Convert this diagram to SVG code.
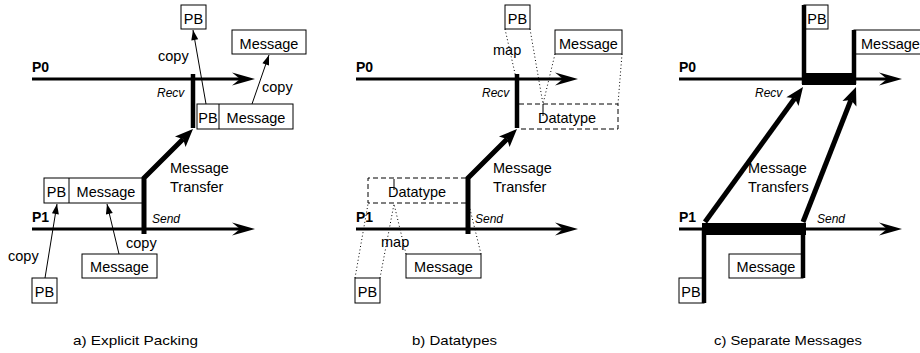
<svg xmlns="http://www.w3.org/2000/svg" width="920" height="353" viewBox="0 0 920 353">
<style>
text{font-family:"Liberation Sans",Arial,sans-serif;font-size:14.5px;fill:#000}
.lbl{font-weight:bold;font-size:14px}
.it{font-style:italic;font-size:12px}
.c{text-anchor:middle}
.cap{font-size:13.5px}
.box{fill:#fff;stroke:#000;stroke-width:1}
.dbox{fill:none;stroke:#000;stroke-width:1;stroke-dasharray:5 3}
.time{stroke:#000;stroke-width:3;fill:none}
.bar{stroke:#000;stroke-width:4.5;fill:none}
.xfer{stroke:#000;stroke-width:5;fill:none}
.thin{stroke:#000;stroke-width:1;fill:none}
.dot{stroke:#000;stroke-width:1;stroke-dasharray:1 2.5;fill:none}
</style>
<defs>
<marker id="hBig" markerUnits="userSpaceOnUse" viewBox="-9 -8 25 16" markerWidth="25" markerHeight="16" refX="0" refY="0" orient="auto"><path d="M15,0 L-8,-6.5 L0,0 L-8,6.5 Z" fill="#000"/></marker>
<marker id="hXfer" markerUnits="userSpaceOnUse" viewBox="-5 -9 20 18" markerWidth="20" markerHeight="18" refX="0" refY="0" orient="auto"><path d="M14,0 L-4,-7.5 L0,0 L-4,7.5 Z" fill="#000"/></marker>
<marker id="hThin" markerUnits="userSpaceOnUse" viewBox="-11 -4 12 8" markerWidth="12" markerHeight="8" refX="0" refY="0" orient="auto"><path d="M0,0 L-10,-3.5 L-10,3.5 Z" fill="#000"/></marker>
</defs>
<rect width="920" height="353" fill="#fff"/>

<!-- Panel a -->
<g id="a-P0"><line class="time" x1="32" y1="79" x2="240" y2="79" marker-end="url(#hBig)"/><text class="lbl" x="32" y="72">P0</text><text class="it" x="157" y="97">Recv</text><line class="bar" x1="193" y1="74" x2="193" y2="128"/></g>
<g id="a-P1"><line class="time" x1="32" y1="229" x2="240" y2="229" marker-end="url(#hBig)"/><text class="lbl" x="32" y="222">P1</text><text class="it" x="152" y="223">Send</text></g>
<g id="a-pb-top"><rect class="box" x="181" y="5" width="25" height="24"/><text class="c" x="193.5" y="24">PB</text></g>
<g id="a-msg-top"><rect class="box" x="232" y="30" width="74" height="24"/><text class="c" x="269" y="49">Message</text></g>
<g id="a-recvbuf"><rect class="box" x="197" y="104" width="96" height="25"/><line class="thin" x1="219" y1="104" x2="219" y2="129"/><text class="c" x="208" y="123">PB</text><text class="c" x="256" y="123">Message</text></g>
<g id="a-sendbuf"><rect class="box" x="44" y="178" width="99" height="25"/><line class="thin" x1="69" y1="178" x2="69" y2="203"/><text class="c" x="56.5" y="197">PB</text><text class="c" x="106" y="197">Message</text></g>
<g id="a-msg-bot"><rect class="box" x="82" y="254" width="75" height="24"/><text class="c" x="119.5" y="272">Message</text></g>
<g id="a-pb-bot"><rect class="box" x="32" y="278" width="25" height="25"/><text class="c" x="44.5" y="297">PB</text></g>

<!-- Panel b -->
<g id="b-P0"><line class="time" x1="356" y1="79" x2="563" y2="79" marker-end="url(#hBig)"/><text class="lbl" x="356" y="72">P0</text><text class="it" x="482" y="97">Recv</text><line class="bar" x1="517" y1="74" x2="517" y2="128"/></g>
<g id="b-P1"><line class="time" x1="356" y1="229" x2="563" y2="229" marker-end="url(#hBig)"/><text class="lbl" x="356" y="222">P1</text><text class="it" x="475" y="223">Send</text></g>
<g id="b-pb-top"><rect class="box" x="505" y="5" width="25" height="24"/><text class="c" x="517.5" y="24">PB</text></g>
<g id="b-msg-top"><rect class="box" x="555" y="30" width="67" height="24"/><text x="559" y="49">Message</text></g>
<g id="b-dt-recv"><path class="dbox" d="M519,104 H618 V129 H519"/><line class="thin" x1="543" y1="104" x2="543" y2="116"/><text class="c" x="567" y="123">Datatype</text></g>
<g id="b-dt-send"><path class="dbox" d="M466,178 H368 V203 H466"/><line class="thin" x1="394" y1="179" x2="394" y2="190"/><text class="c" x="417" y="197">Datatype</text></g>
<g id="b-msg-bot"><rect class="box" x="406" y="254" width="75" height="24"/><text class="c" x="443.5" y="272">Message</text></g>
<g id="b-pb-bot"><rect class="box" x="355" y="278" width="25" height="25"/><text class="c" x="367.5" y="297">PB</text></g>

<!-- Panel c -->
<g id="c-P0"><line class="time" x1="679" y1="79" x2="887" y2="79" marker-end="url(#hBig)"/><text class="lbl" x="679" y="72">P0</text><text class="it" x="755" y="97">Recv</text><rect x="802" y="73" width="54" height="12" fill="#000"/></g>
<g id="c-P1"><line class="time" x1="679" y1="229" x2="887" y2="229" marker-end="url(#hBig)"/><text class="lbl" x="679" y="222">P1</text><text class="it" x="817" y="223">Send</text><rect x="702" y="223" width="104" height="12" fill="#000"/></g>
<g id="c-pb-top"><rect class="box" x="804" y="5" width="24" height="24"/><text class="c" x="817" y="24">PB</text><line class="bar" x1="804" y1="5" x2="804" y2="84"/></g>
<g id="c-msg-top"><rect class="box" x="854" y="30" width="80" height="24"/><text x="861" y="49">Message</text><line class="bar" x1="854" y1="30" x2="854" y2="84"/></g>
<g id="c-msg-bot"><rect class="box" x="729" y="254" width="74" height="24"/><text class="c" x="766" y="272">Message</text><line class="bar" x1="803" y1="229" x2="803" y2="278"/></g>
<g id="c-pb-bot"><rect class="box" x="679" y="278" width="25" height="25"/><text class="c" x="691" y="297">PB</text><line class="bar" x1="704" y1="229" x2="704" y2="303"/></g>

<!-- Connectors -->
<g id="connectors">
<path class="xfer" d="M144,234 V178 L183.1,138.9" stroke-width="4.5" marker-end="url(#hXfer)"/>
<path class="xfer" d="M468,234 V178 L507.1,138.9" stroke-width="4.5" marker-end="url(#hXfer)"/>
<line class="xfer" x1="705" y1="222" x2="794.8" y2="98.3" marker-end="url(#hXfer)"/>
<line class="xfer" x1="803" y1="222" x2="850.9" y2="100" marker-end="url(#hXfer)"/>
<line class="thin" x1="206" y1="104" x2="193" y2="30" marker-end="url(#hThin)"/>
<line class="thin" x1="252" y1="104" x2="269" y2="55" marker-end="url(#hThin)"/>
<line class="thin" x1="45" y1="278" x2="57" y2="204" marker-end="url(#hThin)"/>
<line class="thin" x1="119" y1="254" x2="107" y2="204" marker-end="url(#hThin)"/>
<line class="dot" x1="505" y1="29" x2="516" y2="78"/>
<line class="dot" x1="530" y1="29" x2="543" y2="104"/>
<line class="dot" x1="555" y1="54" x2="543" y2="104"/>
<line class="dot" x1="622" y1="54" x2="618" y2="104"/>
<line class="dot" x1="355" y1="278" x2="368" y2="204"/>
<line class="dot" x1="380" y1="278" x2="394" y2="204"/>
<line class="dot" x1="406" y1="254" x2="394" y2="204"/>
<line class="dot" x1="481" y1="254" x2="469" y2="205"/>
</g>

<!-- Labels -->
<g id="labels">
<text x="158" y="61">copy</text>
<text x="262" y="92">copy</text>
<text x="126" y="248">copy</text>
<text x="8" y="261">copy</text>
<text x="170" y="173">Message</text>
<text x="170" y="192">Transfer</text>
<text x="493" y="55">map</text>
<text x="381" y="247">map</text>
<text x="493" y="173">Message</text>
<text x="493" y="192">Transfer</text>
<text x="748" y="173">Message</text>
<text x="748" y="192">Transfers</text>
<text class="cap" x="73" y="345" textLength="125" lengthAdjust="spacingAndGlyphs">a) Explicit Packing</text>
<text class="cap" x="412" y="345" textLength="85" lengthAdjust="spacingAndGlyphs">b) Datatypes</text>
<text class="cap" x="714" y="345" textLength="148" lengthAdjust="spacingAndGlyphs">c) Separate Messages</text>
</g>
</svg>
